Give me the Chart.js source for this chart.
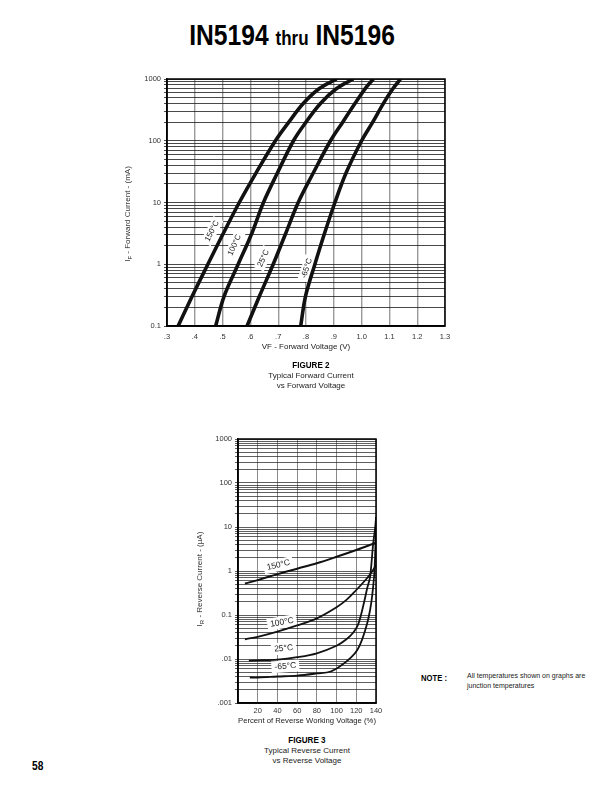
<!DOCTYPE html>
<html><head><meta charset="utf-8">
<script src="https://cdn.jsdelivr.net/npm/chart.js@4.4.1/dist/chart.umd.min.js"></script>
<style>
body{margin:0;width:612px;height:792px;position:relative;background:#fff;font-family:"Liberation Sans",Arial,sans-serif;color:#111;overflow:hidden}
.abs{position:absolute;white-space:nowrap}
.narrow{font-family:"Liberation Sans",Arial,sans-serif;font-weight:bold;display:inline-block;transform:scaleX(0.85)}
.cap{text-align:center;font-size:8px;line-height:10px;color:#222}
.ytitle{font-size:8px;line-height:10px;height:10px;width:200px;text-align:center;color:#333;transform:rotate(-90deg);transform-origin:50% 50%}
.ytitle sub{font-size:6px;vertical-align:-2px;line-height:0}
</style></head>
<body>
<div class="abs" style="left:0;width:584px;top:19px;text-align:center;line-height:32px;color:#000"><span class="narrow" style="font-size:29px;transform-origin:50% 50%">IN5194 <span style="font-size:20px">thru</span> IN5196</span></div>

<div class="abs" style="left:100px;top:70px;width:360px;height:295px"><canvas id="c1" width="360" height="295"></canvas></div>
<div class="abs ytitle" style="left:28px;top:209px">I<sub>F</sub> - Forward Current - (mA)</div>
<div class="abs cap" style="left:211px;width:200px;top:360px"><span class="narrow" style="font-size:9.5px;color:#000">FIGURE 2</span><br>Typical Forward Current<br>vs Forward Voltage</div>

<div class="abs" style="left:180px;top:430px;width:210px;height:300px"><canvas id="c2" width="210" height="300"></canvas></div>
<div class="abs ytitle" style="left:100px;top:574px">I<sub>R</sub> - Reverse Current - (µA)</div>
<div class="abs cap" style="left:207px;width:200px;top:735px"><span class="narrow" style="font-size:9.5px;color:#000">FIGURE 3</span><br>Typical Reverse Current<br>vs Reverse Voltage</div>

<div class="abs" style="left:421px;top:671px;line-height:10px;color:#000"><span class="narrow" style="font-size:9px;transform-origin:0 50%">NOTE :</span></div>
<div class="abs" style="left:467px;top:671px;font-size:7px;line-height:10px;color:#222">All temperatures shown on graphs are<br>junction temperatures</div>
<div class="abs" style="left:32px;top:758px;line-height:14px;color:#000"><span class="narrow" style="font-size:12px;transform-origin:0 50%">58</span></div>

<script>
// ---------- Figure 2 data: forward current (mA) vs forward voltage (V)
const fwdCurrent = [0.1, 0.3, 1, 3, 10, 30, 100, 200, 400, 700, 1000];
const fwdV150 = [0.34, 0.39, 0.447, 0.50, 0.56, 0.62, 0.69, 0.738, 0.79, 0.848, 0.91];
const fwdV100 = [0.475, 0.505, 0.556, 0.603, 0.647, 0.697, 0.755, 0.80, 0.852, 0.91, 0.97];
const fwdV25  = [0.588, 0.632, 0.682, 0.725, 0.772, 0.826, 0.888, 0.932, 0.976, 1.013, 1.042];
const fwdVm65 = [0.781, 0.798, 0.832, 0.865, 0.904, 0.944, 1.0, 1.04, 1.078, 1.113, 1.14];
const fwdSeriesNames = ['150°C', '100°C', '25°C', '-65°C'];
const fwdXTicks = ['.3', '.4', '.5', '.6', '.7', '.8', '.9', '1.0', '1.1', '1.2', '1.3'];
const fwdYTickValues = [0.1, 1, 10, 100, 1000];
const fwdYTickLabels = ['0.1', '1', '10', '100', '1000'];

// ---------- Figure 3 data: reverse current (µA) vs % of reverse working voltage
const revX150 = [7, 20, 40, 60, 80, 100, 120, 140];
const revI150 = [0.52, 0.62, 0.85, 1.13, 1.5, 2.1, 3.0, 4.4];
const revX100 = [7, 20, 40, 60, 80, 100, 110, 120, 130, 135, 140];
const revI100 = [0.028, 0.032, 0.042, 0.058, 0.084, 0.15, 0.22, 0.37, 0.65, 0.9, 1.35];
const revX25  = [11, 20, 40, 60, 80, 100, 110, 117, 122, 127, 131, 134, 137, 139, 139.8];
const revI25  = [0.0092, 0.0093, 0.0097, 0.011, 0.0135, 0.02, 0.028, 0.04, 0.062, 0.16, 0.4, 0.74, 3.9, 9, 14];
const revXm65 = [12, 20, 40, 60, 80, 94, 105, 115, 121, 126, 131, 134, 136, 138.3, 139.3, 139.8, 140];
const revIm65 = [0.0038, 0.0038, 0.004, 0.0042, 0.0047, 0.0052, 0.0072, 0.011, 0.016, 0.028, 0.064, 0.13, 0.26, 0.89, 3, 8, 17];
const revSeriesNames = ['150°C', '100°C', '25°C', '-65°C'];
const revXTicks = ['', '20', '40', '60', '80', '100', '120', '140'];
const revYTickValues = [0.001, 0.01, 0.1, 1, 10, 100, 1000];
const revYTickLabels = ['.001', '.01', '0.1', '1', '10', '100', '1000'];

// ---------- helpers
const zip = (xs, ys) => xs.map((x, i) => ({x, y: ys[i]}));
function logGrid(lo, hi) {
  const v = [];
  for (let e = lo; e < hi; e++) for (let m = 1; m < 10; m++) v.push(+(m * Math.pow(10, e)).toPrecision(3));
  v.push(Math.pow(10, hi));
  return v;
}
function decadeLabel(values, labels) {
  return (value) => {
    const i = values.findIndex(t => Math.abs(Math.log10(t) - Math.log10(value)) < 1e-6);
    return i >= 0 ? labels[i] : '';
  };
}
const FONT = '"Liberation Sans", Arial, sans-serif';
const frame = {
  id: 'frame',
  afterDraw(chart) {
    const {ctx, chartArea: a} = chart;
    ctx.save(); ctx.strokeStyle = '#000'; ctx.lineWidth = 1.5;
    ctx.strokeRect(a.left, a.top, a.right - a.left, a.bottom - a.top);
    ctx.restore();
  }
};
function curveLabels(list, size) {
  return {
    id: 'curveLabels',
    beforeDatasetsDraw(chart) {
      const {ctx} = chart, xs = chart.scales.x, ys = chart.scales.y;
      ctx.save();
      ctx.font = size + 'px ' + FONT;
      list.forEach(l => {
        const px = xs.getPixelForValue(l.x), py = ys.getPixelForValue(l.y);
        ctx.save(); ctx.translate(px, py); ctx.rotate(l.angle * Math.PI / 180);
        const w = ctx.measureText(l.text).width;
        ctx.fillStyle = '#fff'; ctx.fillRect(-w / 2 - 3, -size * 0.7, w + 6, size * 1.4);
        ctx.fillStyle = '#222'; ctx.textAlign = 'center'; ctx.textBaseline = 'middle';
        ctx.fillText(l.text, 0, 0);
        ctx.restore();
      });
      ctx.restore();
    }
  };
}
const noPad = s => { s.paddingLeft = 0; s.paddingRight = 0; s.paddingTop = 0; s.paddingBottom = 0; };
function ds(label, data, width) {
  return {label, data, borderColor: '#111', borderWidth: width, pointRadius: 0, fill: false,
          tension: 0.35, borderCapStyle: 'butt'};
}

// ---------- Figure 2
new Chart(document.getElementById('c1'), {
  type: 'line',
  data: {datasets: [
    ds(fwdSeriesNames[0], zip(fwdV150, fwdCurrent), 3.6),
    ds(fwdSeriesNames[1], zip(fwdV100, fwdCurrent), 3.6),
    ds(fwdSeriesNames[2], zip(fwdV25, fwdCurrent), 3.6),
    ds(fwdSeriesNames[3], zip(fwdVm65, fwdCurrent), 3.6)
  ]},
  options: {
    responsive: false, animation: false, devicePixelRatio: 1,
    layout: {padding: {left: 0, right: 15, top: 9, bottom: 11}},
    plugins: {legend: {display: false}, tooltip: {enabled: false}},
    scales: {
      x: {type: 'linear', min: 0.3, max: 1.3,
        afterFit: s => { s.height = 28; noPad(s); },
        ticks: {stepSize: 0.1, autoSkip: false, maxRotation: 0, padding: 6, color: '#333',
                font: {family: FONT, size: 7.5}, callback: (v, i) => fwdXTicks[i]},
        grid: {color: '#9a9a9a', lineWidth: 1.4, drawTicks: false},
        border: {color: '#000', width: 1.5},
        title: {display: true, text: 'VF - Forward Voltage (V)', color: '#222',
                font: {family: FONT, size: 8}, padding: {top: 0, bottom: 2}}
      },
      y: {type: 'logarithmic', min: 0.1, max: 1000,
        afterFit: s => { s.width = 67; noPad(s); },
        afterBuildTicks: s => { s.ticks = logGrid(-1, 3).map(v => ({value: v})); },
        ticks: {autoSkip: false, padding: 3, color: '#333', font: {family: FONT, size: 7.5},
                callback: decadeLabel(fwdYTickValues, fwdYTickLabels)},
        grid: {color: '#1a1a1a', lineWidth: 0.8, tickLength: 3},
        border: {color: '#000', width: 1.5}
      }
    }
  },
  plugins: [curveLabels([
    {text: '150°C', x: 0.462, y: 3.45, angle: -63},
    {text: '100°C', x: 0.543, y: 2.05, angle: -66},
    {text: '25°C', x: 0.647, y: 1.25, angle: -66},
    {text: '-65°C', x: 0.803, y: 0.86, angle: -72}
  ], 8), frame]
});

// ---------- Figure 3
new Chart(document.getElementById('c2'), {
  type: 'line',
  data: {datasets: [
    ds(revSeriesNames[0], zip(revX150, revI150), 2),
    ds(revSeriesNames[1], zip(revX100, revI100), 1.8),
    ds(revSeriesNames[2], zip(revX25, revI25), 1.8),
    ds(revSeriesNames[3], zip(revXm65, revIm65), 1.8)
  ]},
  options: {
    responsive: false, animation: false, devicePixelRatio: 1,
    layout: {padding: {left: 0, right: 14, top: 9, bottom: 4}},
    plugins: {legend: {display: false}, tooltip: {enabled: false}},
    scales: {
      x: {type: 'linear', min: 0, max: 140,
        afterFit: s => { s.height = 23; noPad(s); },
        ticks: {stepSize: 20, autoSkip: false, maxRotation: 0, padding: 3, color: '#333',
                font: {family: FONT, size: 7.5}, callback: (v, i) => revXTicks[i]},
        grid: {color: '#8a8a8a', lineWidth: 1, drawTicks: false},
        border: {color: '#000', width: 1.5},
        title: {display: true, text: 'Percent of Reverse Working Voltage (%)', color: '#222',
                font: {family: FONT, size: 8}, padding: {top: 0, bottom: 0}}
      },
      y: {type: 'logarithmic', min: 0.001, max: 1000,
        afterFit: s => { s.width = 58; noPad(s); },
        afterBuildTicks: s => { s.ticks = logGrid(-3, 3).map(v => ({value: v})); },
        ticks: {autoSkip: false, padding: 3, color: '#333', font: {family: FONT, size: 7.5},
                callback: decadeLabel(revYTickValues, revYTickLabels)},
        grid: {color: '#1a1a1a', lineWidth: 0.7, tickLength: 3},
        border: {color: '#000', width: 1.5}
      }
    }
  },
  plugins: [curveLabels([
    {text: '150°C', x: 41, y: 1.36, angle: -13},
    {text: '100°C', x: 44.6, y: 0.068, angle: -10},
    {text: '25°C', x: 46.3, y: 0.0174, angle: -5},
    {text: '-65°C', x: 48, y: 0.0068, angle: -4}
  ], 8.5), frame]
});
</script>
</body></html>
